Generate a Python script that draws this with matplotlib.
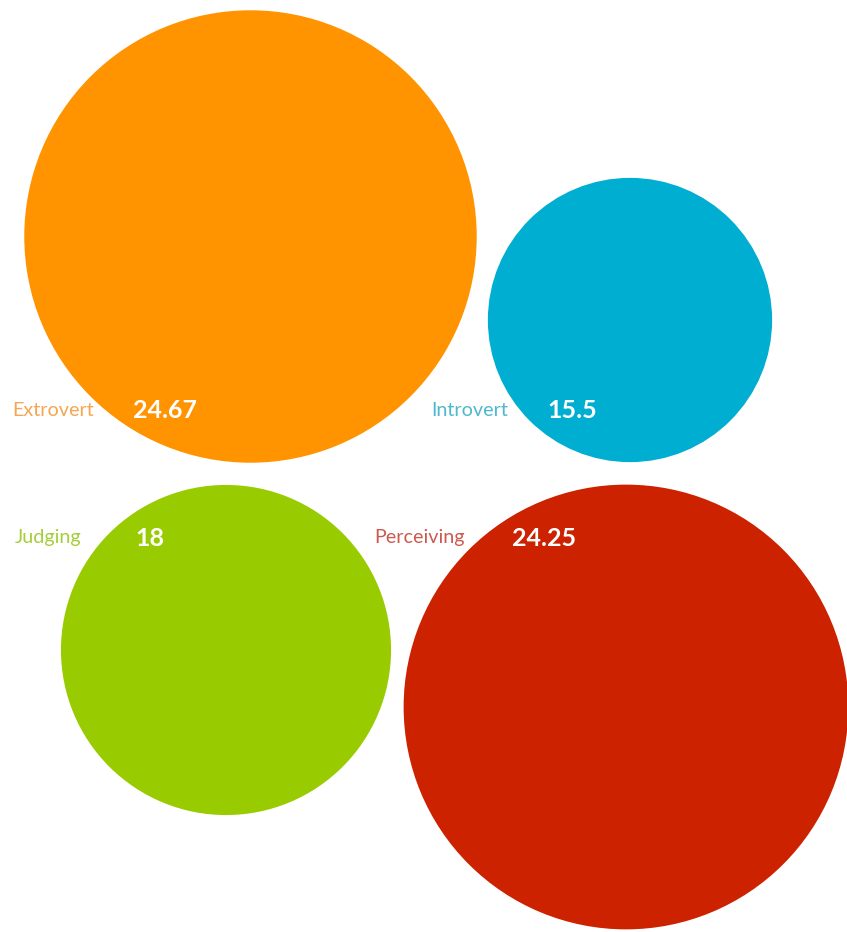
import matplotlib.pyplot as plt
from matplotlib.patches import Circle

# personality dimension scores
labels = ["Extrovert", "Introvert", "Judging", "Perceiving"]
values = [24.67, 15.5, 18, 24.25]
value_text = ["24.67", "15.5", "18", "24.25"]
colors = ["#FF9400", "#00AED2", "#99CC00", "#CC2200"]
label_colors = ["#F6A550", "#4FB8CE", "#A6CE3A", "#CC5A4E"]

# layout (pixel coordinates, y downwards)
centers = [(250.5, 236.5), (630, 320), (226, 650), (626, 707)]
label_pos = [(12, 411), (431, 411), (15, 538), (374, 538)]
number_pos = [(133, 411), (547, 411), (135, 538), (512, 538)]
px_per_unit = 9.17

fig = plt.figure(figsize=(8.47, 9.32), dpi=100)
ax = fig.add_axes([0, 0, 1, 1])
ax.set_xlim(0, 847)
ax.set_ylim(932, 0)
ax.set_aspect("equal")
ax.axis("off")

for (cx, cy), v, c in zip(centers, values, colors):
    ax.add_patch(Circle((cx, cy), v * px_per_unit, color=c, lw=0))

for (lx, ly), (nx, ny), name, txt, lc in zip(label_pos, number_pos, labels, value_text, label_colors):
    ax.text(lx, ly, name, color=lc, fontsize=14.2, family="Lato", va="center", ha="left")
    ax.text(nx, ny, txt, color="white", fontsize=18, family="Lato", fontweight="bold",
            va="center", ha="left")

fig.savefig("out.png", dpi=100)
